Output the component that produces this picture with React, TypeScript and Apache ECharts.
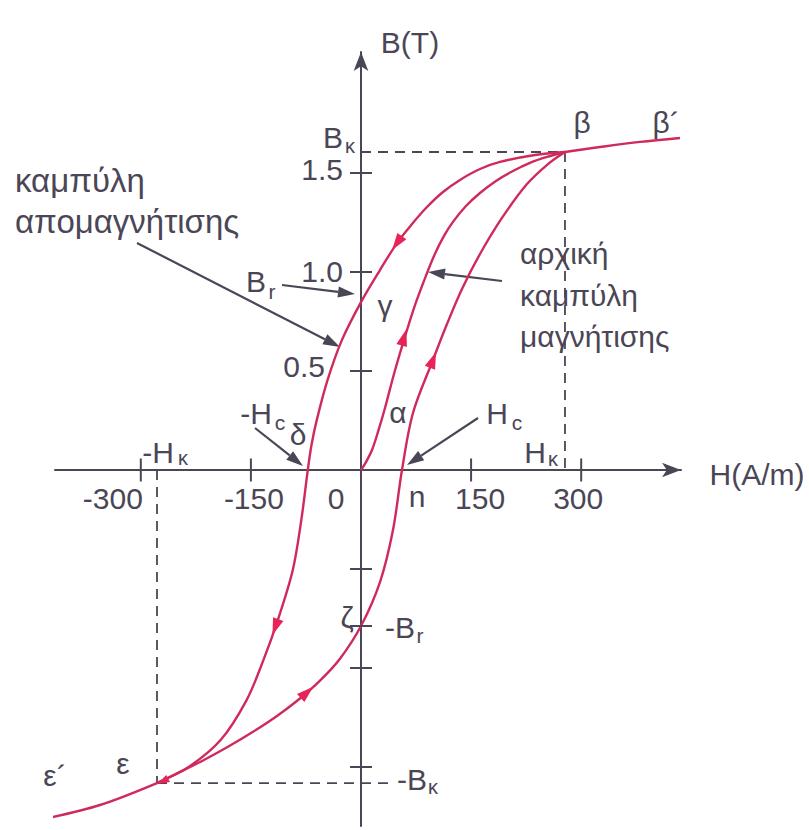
import React, { useEffect, useRef } from "react";
import * as echarts from "echarts";

// ---- magnetisation data: field strength H (A/m) and flux density B (T) ----
// initial magnetisation curve 0 → α → β
const initialH = [0, 6.81, 14.99, 23.16, 32.7, 44.96, 58.58, 72.21, 85.83, 99.46, 113.08, 125.34, 143.05, 162.13, 183.92, 207.08, 230.25, 253.41, 277.93];
const initialB = [0, 0.04, 0.101, 0.192, 0.313, 0.485, 0.657, 0.818, 0.955, 1.081, 1.182, 1.253, 1.333, 1.399, 1.46, 1.51, 1.551, 1.581, 1.606];

// demagnetisation branch β → γ → δ → ε
const descendingH = [277.93, 237.06, 189.37, 162.13, 134.88, 111.72, 89.92, 69.48, 49.05, 25.89, 0, -25.89, -45.5, -60.22, -67.44, -72.48, -81.34, -92.92, -113.35, -132.97, -155.86, -191.28, -234.88, -277.93];
const descendingB = [1.606, 1.591, 1.556, 1.52, 1.465, 1.404, 1.328, 1.242, 1.146, 1.01, 0.848, 0.657, 0.455, 0.253, 0.126, 0, -0.253, -0.505, -0.758, -0.96, -1.162, -1.364, -1.5, -1.581];

// return branch ε → ζ → n → β
const ascendingH = [-277.93, -246.59, -215.26, -181.2, -147.14, -114.44, -83.11, -55.86, -28.61, 0, 25.89, 43.6, 55.86, 70.84, 98.09, 117.17, 137.6, 162.13, 192.1, 226.16, 254.77, 277.93];
const ascendingB = [-1.581, -1.525, -1.467, -1.398, -1.322, -1.242, -1.154, -1.064, -0.953, -0.788, -0.566, -0.303, 0, 0.288, 0.556, 0.737, 0.914, 1.091, 1.273, 1.444, 1.545, 1.606];

// saturation tails β → β´ and ε → ε´
const upperTailH = [277.93, 325.6, 380.1, 434.6];
const upperTailB = [1.606, 1.631, 1.657, 1.677];
const lowerTailH = [-277.93, -355.6, -426.4];
const lowerTailB = [-1.581, -1.692, -1.758];

// characteristic values
const Hk = 277.93;
const Bk = 1.606;
const negHk = -277.93;
const negBk = -1.581;
const negBr = -0.788;
const negBkGuideEndH = 40;

// axis ticks
const hTicks = [-300, -150, 150, 300];
const hTickLabels = ["-300", "-150", "150", "300"];
const bTicks = [1.5, 1.0, 0.5, -0.5, -1.0, -1.5, negBr];
const bTickLabels = ["1.5", "1.0", "0.5", "", "", "", ""];

// direction-of-travel arrowheads on the loop
const arrowH = [49.05, -116.7, 58.6, 98.09, -73.57, -270];
const arrowB = [1.146, -0.793, 0.67, 0.556, -1.123, -1.572];

// ---- styling ----
const INK = "#4b4656";
const CURVE = "#cf2a5b";
const ARROW_RED = "#e6245a";
const FONT = "'Liberation Sans', Arial, Helvetica, sans-serif";
const H_MIN = -416.9;
const H_MAX = 436.0;
const B_MIN = -1.798;
const B_MAX = 2.111;
const arrowRotation = [145, 160, -16, -21, -48, 118];
const arrowSize = [[11, 17], [11, 17], [11, 17], [11, 17], [11, 17], [8, 12]];
const hLabelShift = [-28, 3, 9, -3];
const bLabelShift = [[-18, -3], [-18, 0], [-36, -4], [0, 0], [0, 0], [0, 0], [0, 0]];

const zip = (hs: number[], bs: number[]) => hs.map((h, i) => [h, bs[i]]);

function text(x: number, y: number, t: string, size = 30, align = "center") {
  return {
    type: "text",
    x,
    y,
    silent: true,
    style: {
      text: t,
      fill: INK,
      fontSize: size,
      fontFamily: FONT,
      align,
      textAlign: align,
      verticalAlign: "middle",
      textVerticalAlign: "middle",
    },
  };
}

function pointer(x1: number, y1: number, x2: number, y2: number) {
  const ang = Math.atan2(y2 - y1, x2 - x1);
  const len = 17;
  const half = 5.5;
  const bx = x2 - len * Math.cos(ang);
  const by = y2 - len * Math.sin(ang);
  const px = -Math.sin(ang) * half;
  const py = Math.cos(ang) * half;
  return [
    { type: "line", silent: true, shape: { x1, y1, x2: bx, y2: by }, style: { stroke: INK, lineWidth: 2.2 } },
    {
      type: "polygon",
      silent: true,
      shape: { points: [[x2, y2], [bx + px, by + py], [bx - px, by - py]] },
      style: { fill: INK },
    },
  ];
}

function curve(name: string, hs: number[], bs: number[]) {
  return {
    type: "line",
    name,
    data: zip(hs, bs),
    smooth: 0.33,
    showSymbol: false,
    clip: false,
    silent: true,
    z: 4,
    lineStyle: { color: CURVE, width: 2.4 },
  };
}

function guide(points: number[][]) {
  return {
    type: "line",
    data: points,
    showSymbol: false,
    silent: true,
    z: 2,
    lineStyle: { color: INK, width: 1.8, type: [10, 7] },
  };
}

const labelBase = {
  show: true,
  position: "inside",
  color: INK,
  fontSize: 30,
  fontFamily: FONT,
};

export default function App() {
  const ref = useRef<HTMLDivElement>(null);

  useEffect(() => {
    if (!ref.current) return;
    const chart = echarts.init(ref.current, null, { renderer: "svg" });

    const graphics: any[] = [
      text(410, 42, "B(T)"),
      text(333, 137, "B"),
      text(350, 146, "κ", 20),
      text(582, 122, "β"),
      text(666, 122, "β´"),
      text(15, 180, "καμπύλη", 33, "left"),
      text(15, 221, "απομαγνήτισης", 33, "left"),
      text(256, 281, "B"),
      text(272, 291, "r", 21),
      text(385, 305, "γ"),
      text(256, 413, "-H"),
      text(280, 422, "c", 21),
      text(298, 434, "δ"),
      text(398, 412, "α"),
      text(497, 413, "H"),
      text(517, 422, "c", 21),
      text(158, 452, "-H"),
      text(183, 458, "κ", 20),
      text(535, 452, "H"),
      text(553, 459, "κ", 20),
      text(417, 496, "n"),
      text(520, 253, "αρχική", 30, "left"),
      text(520, 295, "καμπύλη", 30, "left"),
      text(520, 336, "μαγνήτισης", 30, "left"),
      text(347, 617, "ζ"),
      text(400, 627, "-B"),
      text(420, 635, "r", 21),
      text(412, 779, "-B"),
      text(433, 787, "κ", 20),
      text(123, 763, "ε"),
      text(55, 775, "ε´"),
      text(757, 474, "H(A/m)"),
      ...pointer(137, 243, 340, 347),
      ...pointer(282, 285, 355, 294),
      ...pointer(255, 428, 303, 466),
      ...pointer(478, 418, 407, 465),
      ...pointer(502, 281, 428, 272),
    ];

    chart.setOption({
      animation: false,
      backgroundColor: "#ffffff",
      grid: { left: 55, right: 128, top: 52, bottom: 4 },
      xAxis: {
        type: "value",
        min: H_MIN,
        max: H_MAX,
        axisLine: {
          onZero: true,
          symbol: ["none", "arrow"],
          symbolSize: [11, 19],
          lineStyle: { color: INK, width: 2 },
        },
        axisTick: { show: false },
        axisLabel: { show: false },
        splitLine: { show: false },
      },
      yAxis: {
        type: "value",
        min: B_MIN,
        max: B_MAX,
        axisLine: {
          onZero: true,
          symbol: ["none", "arrow"],
          symbolSize: [11, 19],
          lineStyle: { color: INK, width: 2 },
        },
        axisTick: { show: false },
        axisLabel: { show: false },
        splitLine: { show: false },
      },
      graphic: graphics,
      series: [
        guide([[0, Bk], [Hk, Bk]]),
        guide([[Hk, Bk], [Hk, 0]]),
        guide([[negHk, 0], [negHk, negBk]]),
        guide([[negHk, negBk], [negBkGuideEndH, negBk]]),
        curve("initial", initialH, initialB),
        curve("descending", descendingH, descendingB),
        curve("ascending", ascendingH, ascendingB),
        curve("upper tail", upperTailH, upperTailB),
        curve("lower tail", lowerTailH, lowerTailB),
        {
          type: "scatter",
          silent: true,
          z: 5,
          symbol: "rect",
          symbolSize: [2, 23],
          itemStyle: { color: INK, opacity: 1 },
          data: hTicks.map((h, i) => ({
            value: [h, 0],
            label: { ...labelBase, formatter: hTickLabels[i], offset: [hLabelShift[i], 29] },
          })),
        },
        {
          type: "scatter",
          silent: true,
          z: 5,
          symbol: "rect",
          symbolSize: [22, 2],
          itemStyle: { color: INK, opacity: 1 },
          data: bTicks.map((b, i) => ({
            value: [0, b],
            label: {
              ...labelBase,
              show: bTickLabels[i] !== "",
              align: "right",
              formatter: bTickLabels[i],
              offset: bLabelShift[i],
            },
          })),
        },
        {
          type: "scatter",
          silent: true,
          z: 5,
          symbolSize: 0,
          itemStyle: { opacity: 1 },
          data: [
            {
              value: [0, 0],
              label: { ...labelBase, formatter: "0", offset: [-25, 29] },
            },
          ],
        },
        {
          type: "scatter",
          silent: true,
          z: 6,
          symbol: "triangle",
          itemStyle: { color: ARROW_RED, opacity: 1 },
          data: arrowH.map((h, i) => ({
            value: [h, arrowB[i]],
            symbolRotate: arrowRotation[i],
            symbolSize: arrowSize[i],
          })),
        },
      ],
    });

    return () => chart.dispose();
  }, []);

  return (
    <div
      ref={ref}
      style={{ position: "absolute", left: 0, top: 0, width: 809, height: 830, background: "#fff" }}
    />
  );
}
